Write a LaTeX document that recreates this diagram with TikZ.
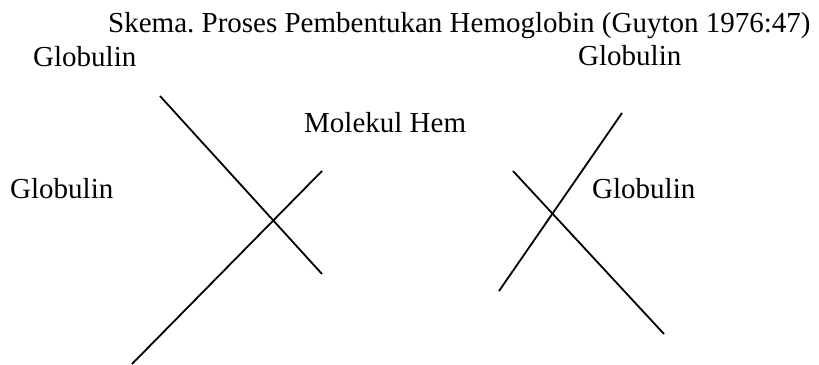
\documentclass[tikz,border=0pt]{standalone}
\usepackage{fontspec}
\setmainfont{Liberation Serif}
\frenchspacing
\begin{document}
\begin{tikzpicture}[x=1pt,y=-1pt,
  lbl/.style={inner sep=0pt,anchor=base west,font=\fontsize{29}{34}\selectfont},
  stroke/.style={line width=1.8pt,black}]
\useasboundingbox (0,0) rectangle (819,364);
\node[lbl] (title) at (108,32) {Skema. Proses Pembentukan Hemoglobin (Guyton 1976:47)};
\node[lbl] (g1) at (33,66) {Globulin};
\node[lbl] (g2) at (578,65) {Globulin};
\node[lbl] (mol) at (304,132) {Molekul Hem};
\node[lbl] (g3) at (10,198) {Globulin};
\node[lbl] (g4) at (592,198) {Globulin};
\coordinate (a1) at (160,96);
\coordinate (a2) at (322,274);
\coordinate (b1) at (322,171);
\coordinate (b2) at (132,364);
\coordinate (c1) at (622,113);
\coordinate (c2) at (499,291);
\coordinate (d1) at (513,171);
\coordinate (d2) at (664,334);
\draw[stroke] (a1) -- (a2);
\draw[stroke] (b1) -- (b2);
\draw[stroke] (c1) -- (c2);
\draw[stroke] (d1) -- (d2);
\end{tikzpicture}
\end{document}
